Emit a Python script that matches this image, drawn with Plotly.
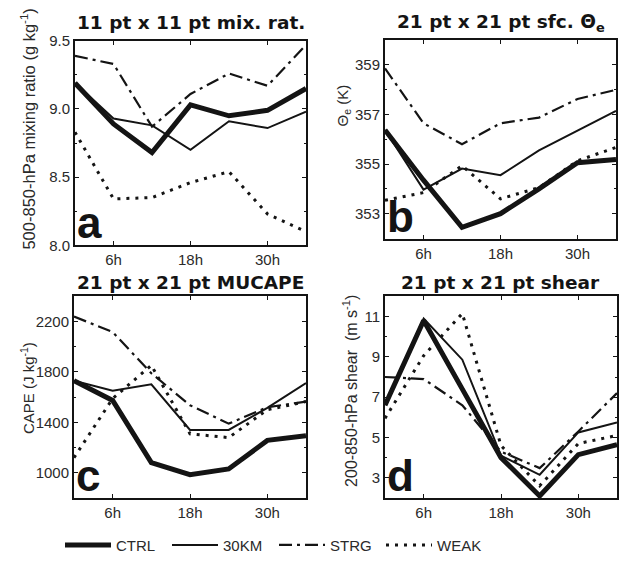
import plotly.graph_objects as go

hours = [0, 6, 12, 18, 24, 30, 36]
series_names = ["CTRL", "30KM", "STRG", "WEAK"]

# Panel a: 500-850-hPa mixing ratio (g/kg)
mix_ctrl = [9.19, 8.89, 8.68, 9.03, 8.95, 8.99, 9.15]
mix_30km = [9.19, 8.93, 8.88, 8.70, 8.91, 8.86, 8.98]
mix_strg = [9.39, 9.33, 8.87, 9.11, 9.26, 9.17, 9.47]
mix_weak = [8.83, 8.34, 8.35, 8.46, 8.54, 8.23, 8.10]

# Panel b: surface theta-e (K)
the_ctrl = [356.37, 354.35, 352.45, 353.0, 354.0, 355.05, 355.18]
the_30km = [356.37, 353.97, 354.82, 354.55, 355.55, 356.35, 357.14]
the_strg = [358.85, 356.64, 355.8, 356.64, 356.87, 357.62, 357.99]
the_weak = [353.54, 353.85, 354.93, 353.6, 354.05, 355.13, 355.67]

# Panel c: MUCAPE (J/kg)
cape_ctrl = [1730, 1574, 1080, 985, 1030, 1257, 1294]
cape_30km = [1730, 1652, 1702, 1340, 1340, 1515, 1712]
cape_strg = [2240, 2117, 1790, 1536, 1390, 1520, 1565]
cape_weak = [1120, 1589, 1853, 1309, 1279, 1500, 1565]

# Panel d: 200-850-hPa shear (m/s)
shr_ctrl = [6.6, 10.8, 7.4, 4.0, 2.1, 4.15, 4.65]
shr_30km = [6.65, 10.9, 8.86, 4.1, 3.15, 5.25, 5.75]
shr_strg = [8.0, 7.9, 6.6, 4.3, 3.48, 5.3, 7.2]
shr_weak = [5.95, 9.06, 11.15, 4.6, 2.6, 4.7, 5.1]

x_tick_vals = [6, 18, 30]
x_tick_text = ["6h", "18h", "30h"]

titles = ["11 pt x 11 pt mix. rat.", "21 pt x 21 pt sfc. \u0398<sub>e</sub>",
          "21 pt x 21 pt MUCAPE", "21 pt x 21 pt shear"]
ytitles = ["500-850-hPa mixing ratio (g kg<sup>-1</sup>)", "\u0398<sub>e</sub> (K)",
           "CAPE (J kg<sup>-1</sup>)", "200-850-hPa shear&nbsp;&nbsp;(m s<sup>-1</sup>)"]
letters = ["a", "b", "c", "d"]

W, H = 623, 562
INK = "#141414"
TXT = "#2a2a2a"
FONT = "Liberation Sans, Arial"

styles = {
    "CTRL": dict(width=5, dash="solid"),
    "30KM": dict(width=2, dash="solid"),
    "STRG": dict(width=2.2, dash="13px,5px,3px,5px"),
    "WEAK": dict(width=3, dash="3px,6px"),
}

panels = [
    dict(data=[mix_ctrl, mix_30km, mix_strg, mix_weak], xd=(75, 306), yd=(33, 245),
         yr=[8.0, 9.5], ytv=[8.0, 8.5, 9.0, 9.5], ytt=["8.0", "8.5", "9.0", "9.5"], minor=0.25,
         ytpos=(28, 125), yts=16.5),
    dict(data=[the_ctrl, the_30km, the_strg, the_weak], xd=(385, 616), yd=(32, 238),
         yr=[352, 360], ytv=[353, 355, 357, 359], ytt=["353", "355", "357", "359"], minor=1,
         ytpos=(343, 100), yts=15),
    dict(data=[cape_ctrl, cape_30km, cape_strg, cape_weak], xd=(74, 306), yd=(298, 507),
         yr=[800, 2400], ytv=[1000, 1400, 1800, 2200], ytt=["1000", "1400", "1800", "2200"], minor=200,
         ytpos=(27, 393), yts=15),
    dict(data=[shr_ctrl, shr_30km, shr_strg, shr_weak], xd=(385, 617), yd=(298, 507),
         yr=[2, 12], ytv=[3, 5, 7, 9, 11], ytt=["3", "5", "7", "9", "11"], minor=1,
         ytpos=(350, 396), yts=16),
]

fig = go.Figure()
annotations = []

for i, p in enumerate(panels):
    n = "" if i == 0 else str(i + 1)
    xa, ya = "x" + n, "y" + n
    for j, name in enumerate(series_names):
        fig.add_trace(go.Scatter(
            x=hours, y=p["data"][j], mode="lines", name=name,
            line=dict(color=INK, **styles[name]),
            xaxis=xa, yaxis=ya, showlegend=(i == 0),
        ))
    xdom = [p["xd"][0] / W, p["xd"][1] / W]
    ydom = [1 - p["yd"][1] / H, 1 - p["yd"][0] / H]
    axis_common = dict(showline=True, linecolor=INK, linewidth=2, mirror="ticks",
                       ticks="inside", ticklen=4, tickcolor=INK, tickwidth=1,
                       showgrid=False, zeroline=False,
                       tickfont=dict(family=FONT, size=15, color=TXT))
    fig.update_layout(**{
        ("xaxis" + n): dict(domain=xdom, range=[0, 36], tickvals=x_tick_vals, ticktext=x_tick_text,
                            anchor=ya, **axis_common),
        ("yaxis" + n): dict(domain=ydom, range=p["yr"], tickvals=p["ytv"], ticktext=p["ytt"],
                            anchor=xa,
                            minor=dict(dtick=p["minor"], ticks="inside", ticklen=2, tickcolor=INK),
                            **axis_common),
    })
    # y-axis title
    annotations.append(dict(
        text=ytitles[i], xref="paper", yref="paper",
        x=p["ytpos"][0] / W, y=1 - p["ytpos"][1] / H, textangle=-90,
        xanchor="center", yanchor="middle", showarrow=False,
        font=dict(family=FONT, size=p["yts"], color=TXT)))
    # panel title
    annotations.append(dict(
        text="<b>" + titles[i] + "</b>", xref="paper", yref="paper",
        x=(xdom[0] + xdom[1]) / 2, y=1 - (14 if i < 2 else 284) / H,
        xanchor="center", yanchor="middle", showarrow=False,
        font=dict(family="DejaVu Sans", size=18.5, color=INK)))
    # panel letter
    annotations.append(dict(
        text="<b>" + letters[i] + "</b>", xref=xa + " domain", yref=ya + " domain",
        x=0.0, y=-0.02, xanchor="left", yanchor="bottom", showarrow=False,
        font=dict(family=FONT, size=44, color=INK)))

fig.update_layout(
    width=W, height=H, margin=dict(l=0, r=0, t=0, b=0),
    paper_bgcolor="white", plot_bgcolor="white",
    annotations=annotations,
    showlegend=True,
    legend=dict(orientation="h", x=60 / W, y=1 - 556 / H, xanchor="left", yanchor="middle",
                font=dict(family=FONT, size=15, color=TXT),
                itemwidth=46, entrywidth=46, tracegroupgap=0,
                bgcolor="rgba(0,0,0,0)"),
)

fig.write_html("out.html")
